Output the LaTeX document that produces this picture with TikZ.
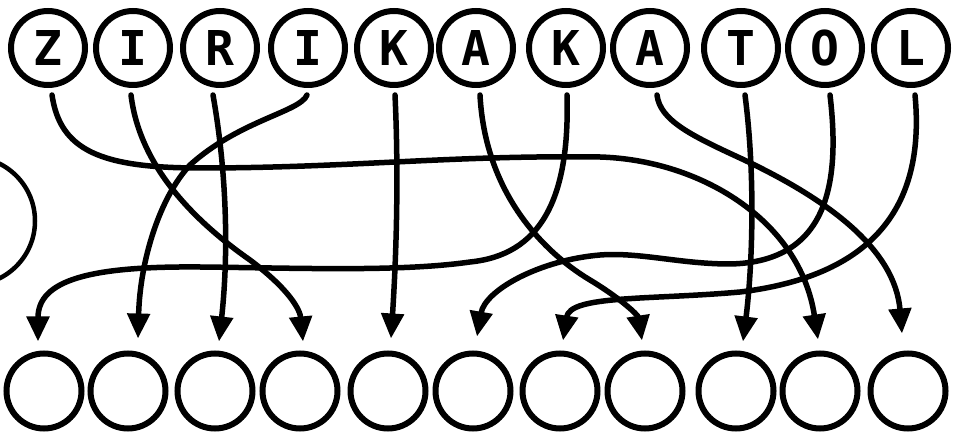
\documentclass[tikz,border=0pt]{standalone}
\usepackage{fontspec}
\setmainfont{DejaVu Sans Mono}
\usetikzlibrary{arrows.meta,calc}
\tikzset{
  topc/.style={circle,draw,line width=6pt,minimum size=74pt,inner sep=0pt,
    font=\fontsize{48}{48}\selectfont\bfseries},
  botc/.style={circle,draw,line width=6pt,minimum size=75pt,inner sep=0pt},
  conn/.style={line width=5.5pt,line cap=round,line join=round,
    -{Triangle[width=22pt,length=25pt]}},
}
\begin{document}
\begin{tikzpicture}[x=1pt,y=-1pt]
\useasboundingbox (0,0) rectangle (953,435);
\clip (0,0) rectangle (953,435);
\fill[white] (0,0) rectangle (953,435);
% partial circle at left edge
\draw[line width=4.5pt] (-29,221) circle[radius=64];
% top row
\node[topc] (t1) at (48,48) {Z};
\node[topc] (t2) at (133,48) {I};
\node[topc] (t3) at (220,48) {R};
\node[topc] (t4) at (308,48) {I};
\node[topc] (t5) at (394,48) {K};
\node[topc] (t6) at (476,48) {A};
\node[topc] (t7) at (566,48) {K};
\node[topc] (t8) at (650,48) {A};
\node[topc] (t9) at (741,48) {T};
\node[topc] (t10) at (825,48) {O};
\node[topc] (t11) at (911,48) {L};
% bottom row
\node[botc] (b1) at (44,391) {};
\node[botc] (b2) at (128,391) {};
\node[botc] (b3) at (215,391) {};
\node[botc] (b4) at (300,391) {};
\node[botc] (b5) at (388,391) {};
\node[botc] (b6) at (473,391) {};
\node[botc] (b7) at (560,391) {};
\node[botc] (b8) at (645,391) {};
\node[botc] (b9) at (736,391) {};
\node[botc] (b10) at (820,391) {};
\node[botc] (b11) at (908,391) {};
% connectors
\draw[conn] ($(t1.south)+(4,7)$) .. controls (60,150) and (100,168) .. (200,168)
  .. controls (350,168) and (450,155) .. (600,157)
  .. controls (700,160) and (800,220) .. ($(b10.north)+(-2,-11)$);
\draw[conn] ($(t2.south)+(-2,7)$) .. controls (140,170) and (200,225) .. (250,260)
  .. controls (290,290) and (300,310) .. ($(b4.north)+(3,-9)$);
\draw[conn] ($(t3.south)+(-7,7)$) .. controls (228,180) and (228,260) .. ($(b3.north)+(4,-9)$);
\draw[conn] ($(t4.south)+(-1,7)$) .. controls (300,112) and (240,120) .. (190,165)
  .. controls (160,197) and (140,260) .. ($(b2.north)+(10,-12)$);
\draw[conn] ($(t5.south)+(1,7)$) .. controls (399,180) and (396,260) .. ($(b5.north)+(3,-12)$);
\draw[conn] ($(t6.south)+(4,7)$) .. controls (485,190) and (540,250) .. (590,280)
  .. controls (620,298) and (638,315) .. ($(b8.north)+(-3,-10)$);
\draw[conn] ($(t7.south)+(1,7)$) .. controls (570,200) and (540,255) .. (470,262)
  .. controls (400,272) and (300,268) .. (200,267)
  .. controls (90,266) and (38,280) .. ($(b1.north)+(-6,-9)$);
\draw[conn] ($(t8.south)+(7,7)$) .. controls (660,120) and (690,135) .. (740,158)
  .. controls (830,200) and (895,250) .. ($(b11.north)+(-6,-17)$);
\draw[conn] ($(t9.south)+(4,7)$) .. controls (756,180) and (752,270) .. ($(b9.north)+(7,-9)$);
\draw[conn] ($(t10.south)+(5,7)$) .. controls (840,180) and (830,262) .. (730,264)
  .. controls (680,264) and (640,252) .. (600,255)
  .. controls (540,260) and (485,290) .. ($(b6.north)+(4,-14)$);
\draw[conn] ($(t11.south)+(4,7)$) .. controls (925,200) and (880,275) .. (740,292)
  .. controls (650,300) and (570,295) .. ($(b7.north)+(3,-10)$);
\end{tikzpicture}
\end{document}
